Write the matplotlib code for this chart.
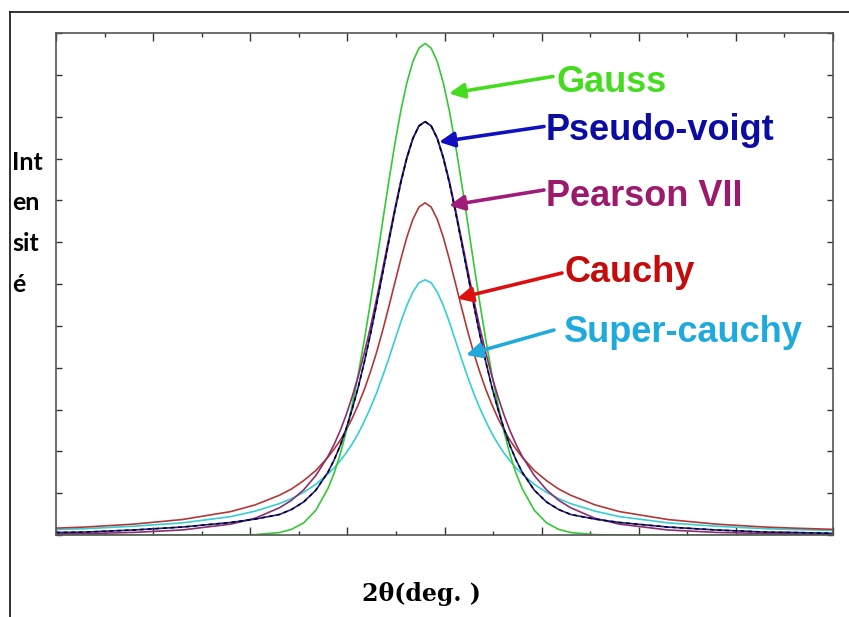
import numpy as np
import matplotlib
matplotlib.use("Agg")
import matplotlib.pyplot as plt
from matplotlib.ticker import MultipleLocator
from matplotlib.lines import Line2D

# ---- data (half-profiles, symmetric about the peak) ----
peak_center = 7.6
offsets = [0, 0.125, 0.25, 0.375, 0.5, 0.625, 0.75, 0.875, 1.0, 1.125, 1.25,
           1.375, 1.5, 1.625, 1.75, 1.875, 2.0, 2.25, 2.5, 2.75,
           3.0, 3.5, 4.0, 5.0, 6.0, 7.0, 7.6, 8.4]
gauss = [11.75, 11.64, 11.32, 10.81, 10.14, 9.33, 8.43, 7.48, 6.51, 5.56, 4.67,
         3.85, 3.11, 2.47, 1.92, 1.47, 1.11, 0.59, 0.29, 0.135,
         0.058, 0.008, 0.0, 0.0, 0.0, 0.0, 0.0, 0.0]
pseudo_voigt = [9.88, 9.78, 9.48, 9.01, 8.42, 7.73, 7.00, 6.25, 5.51, 4.80, 4.14,
                3.54, 3.01, 2.54, 2.13, 1.79, 1.50, 1.07, 0.79, 0.61,
                0.49, 0.38, 0.30, 0.19, 0.12, 0.07, 0.06, 0.04]
pearson_vii = [9.88, 9.78, 9.49, 9.04, 8.46, 7.79, 7.07, 6.35, 5.64, 4.97, 4.36,
               3.80, 3.31, 2.87, 2.49, 2.16, 1.88, 1.42, 1.08, 0.83,
               0.65, 0.40, 0.26, 0.12, 0.062, 0.035, 0.025, 0.017]
cauchy = [7.94, 7.84, 7.55, 7.12, 6.59, 6.02, 5.44, 4.88, 4.36, 3.90, 3.48,
          3.12, 2.79, 2.51, 2.26, 2.05, 1.86, 1.54, 1.30, 1.10,
          0.95, 0.72, 0.56, 0.37, 0.26, 0.19, 0.164, 0.135]
super_cauchy = [6.10, 6.03, 5.81, 5.49, 5.09, 4.65, 4.21, 3.79, 3.39, 3.04, 2.72,
                2.43, 2.18, 1.96, 1.77, 1.60, 1.46, 1.21, 1.02, 0.87,
                0.75, 0.57, 0.44, 0.29, 0.21, 0.15, 0.13, 0.11]
labels = ["Gauss", "Pseudo-voigt", "Pearson VII", "Cauchy", "Super-cauchy"]
ylabel_parts = ["Int", "en", "sit", "é"]
xlabel = "2θ(deg. )"


def full_profile(vals):
    off = np.array(offsets)
    v = np.array(vals)
    left = peak_center - off[::-1]
    right = peak_center + off[1:]
    xs = np.concatenate([left, right])
    ys = np.concatenate([v[::-1], v[1:]])
    keep = (xs >= 0) & (xs <= 16)
    return xs[keep], ys[keep]


W, H = 849, 617
fig = plt.figure(figsize=(W / 100, H / 100), dpi=100)
fig.patch.set_facecolor("white")

ax = fig.add_axes([56 / W, 1 - 535 / H, (833 - 56) / W, (535 - 33) / H])
ax.set_xlim(0, 16)
ax.set_ylim(0, 12)

curve_colors = ["#35c835", "#1e1ea0", "#8c2d6c", "#b23838", "#35cfd2"]
series = [gauss, pseudo_voigt, pearson_vii, cauchy, super_cauchy]
order = [4, 3, 0, 2, 1]
for i in order:
    xs, ys = full_profile(series[i])
    ax.plot(xs, ys, color=curve_colors[i], lw=1.2)
xs, ys = full_profile(pseudo_voigt)
ax.plot(xs, ys, color="black", lw=1.1, ls=(0, (2.5, 2.5)))

ax.xaxis.set_major_locator(MultipleLocator(2))
ax.xaxis.set_minor_locator(MultipleLocator(1))
ax.yaxis.set_major_locator(MultipleLocator(1))
ax.tick_params(axis="both", which="both", direction="in", top=True, right=True,
               labelbottom=False, labelleft=False, color="#333333", width=1.0)
ax.tick_params(axis="x", which="major", length=6)
ax.tick_params(axis="x", which="minor", length=3)
ax.tick_params(axis="y", which="major", length=4)
for s in ax.spines.values():
    s.set_color("#555555")
    s.set_linewidth(1.2)


def fp(x, y):
    return (x, H - y)


text_colors = ["#45dc20", "#0c0ca2", "#9c1a6c", "#c40c0c", "#1eaadc"]
arrow_colors = ["#45dc20", "#1010c0", "#a01c7a", "#dd1010", "#22aadd"]
text_pos = [(557, 91.5), (546, 140.5), (546, 206), (564, 282.5), (564, 341.5)]
arrow_tail = [(553, 76.5), (544, 126.5), (544, 190), (562, 273), (554, 330)]
arrow_tip = [(449, 93.5), (439, 142), (449, 205.5), (457, 298.5), (466, 355)]

for i in range(5):
    fig.text(text_pos[i][0] / W, 1 - text_pos[i][1] / H, labels[i],
             color=text_colors[i], fontsize=26, fontweight="bold",
             family="Liberation Sans", ha="left", va="baseline")
    ax.annotate("", xy=fp(*arrow_tip[i]), xytext=fp(*arrow_tail[i]),
                xycoords="figure pixels", textcoords="figure pixels",
                arrowprops=dict(arrowstyle="-|>,head_length=0.65,head_width=0.32",
                                mutation_scale=14, lw=2.6, color=arrow_colors[i],
                                shrinkA=0, shrinkB=0), annotation_clip=False)

ylab_base = [169.5, 209.5, 251, 292.5]
for part, yb in zip(ylabel_parts, ylab_base):
    fig.text(12 / W, 1 - yb / H, part, fontsize=18, fontweight="bold",
             family=["Lato", "DejaVu Sans"], ha="left", va="baseline", color="black")

fig.text(421 / W, 1 - 601.5 / H, xlabel, fontsize=17, fontweight="bold",
         family="DejaVu Serif", ha="center", va="baseline", color="black")

# outer frame lines
fig.add_artist(Line2D([10 / W, 10 / W], [0, 1 - 11.5 / H], transform=fig.transFigure,
                      color="#222222", lw=1.3))
fig.add_artist(Line2D([10 / W, 1], [1 - 11.5 / H, 1 - 11.5 / H], transform=fig.transFigure,
                      color="#222222", lw=1.3))

fig.savefig("out.png", dpi=100, facecolor="white")
